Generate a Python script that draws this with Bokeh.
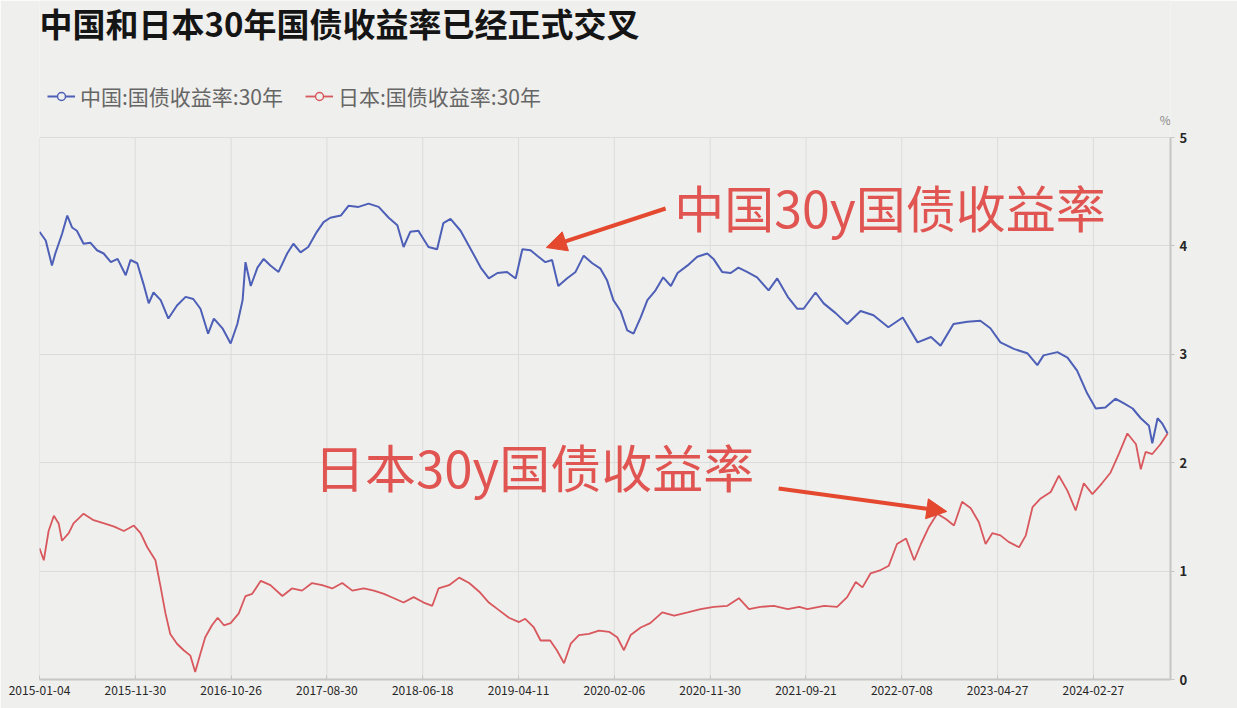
from bokeh.plotting import figure
from bokeh.models import (Range1d, FixedTicker, Label, Arrow, NormalHead,
                          Legend, LegendItem)
from bokeh.embed import file_html
from bokeh.resources import INLINE

# ---------------- data ----------------
tick_idx = [0, 200, 400, 600, 800, 1000, 1200, 1400, 1600, 1800, 2000, 2200]
tick_labels = ["2015-01-04", "2015-11-30", "2016-10-26", "2017-08-30",
               "2018-06-18", "2019-04-11", "2020-02-06", "2020-11-30",
               "2021-09-21", "2022-07-08", "2023-04-27", "2024-02-27"]
y_ticks = [0, 1, 2, 3, 4, 5]

china_idx = [0, 13, 26, 33, 47, 58, 68, 78, 92, 106, 120, 134, 149, 163, 180, 190,
             204, 217, 228, 238, 253, 269, 287, 305, 321, 336, 352, 364, 382, 399,
             413, 424, 430, 441, 455, 468, 482, 499, 517, 530, 545, 561, 579, 593,
             607, 629, 645, 666, 687, 708, 729, 747, 760, 774, 791, 795, 812, 830,
             843, 858, 879, 904, 921, 938, 956, 976, 994, 1008, 1025, 1039, 1056,
             1070, 1083, 1101, 1119, 1136, 1154, 1171, 1185, 1198, 1213, 1227, 1240,
             1255, 1269, 1286, 1302, 1318, 1332, 1353, 1373, 1394, 1407, 1425, 1443,
             1459, 1477, 1498, 1522, 1540, 1562, 1582, 1595, 1620, 1637, 1662, 1686,
             1714, 1741, 1772, 1802, 1833, 1861, 1881, 1908, 1937, 1964, 1985, 2006,
             2034, 2062, 2083, 2096, 2125, 2146, 2166, 2187, 2205, 2225, 2246, 2263,
             2282, 2299, 2316, 2323, 2334, 2344, 2355]
china_val = [4.13, 4.05, 3.82, 3.93, 4.11, 4.28, 4.17, 4.14, 4.02, 4.03, 3.96, 3.93,
             3.85, 3.88, 3.73, 3.87, 3.84, 3.65, 3.47, 3.57, 3.50, 3.33, 3.45, 3.53,
             3.51, 3.42, 3.19, 3.33, 3.24, 3.10, 3.28, 3.50, 3.85, 3.63, 3.80, 3.88,
             3.82, 3.76, 3.93, 4.02, 3.94, 3.99, 4.13, 4.22, 4.26, 4.28, 4.37, 4.36,
             4.39, 4.36, 4.26, 4.19, 3.99, 4.13, 4.14, 4.11, 3.99, 3.97, 4.21, 4.25,
             4.14, 3.94, 3.80, 3.70, 3.75, 3.76, 3.70, 3.97, 3.96, 3.91, 3.85, 3.87,
             3.63, 3.70, 3.76, 3.91, 3.84, 3.79, 3.68, 3.50, 3.40, 3.22, 3.19, 3.34,
             3.50, 3.59, 3.71, 3.63, 3.75, 3.82, 3.90, 3.93, 3.88, 3.76, 3.75, 3.80,
             3.76, 3.71, 3.59, 3.70, 3.53, 3.42, 3.42, 3.57, 3.47, 3.38, 3.28, 3.40,
             3.36, 3.25, 3.34, 3.11, 3.16, 3.08, 3.28, 3.30, 3.31, 3.24, 3.11, 3.05,
             3.01, 2.90, 2.99, 3.02, 2.97, 2.85, 2.64, 2.50, 2.51, 2.59, 2.55, 2.50,
             2.41, 2.34, 2.18, 2.41, 2.36, 2.27]

japan_idx = [0, 9, 19, 30, 40, 47, 61, 71, 92, 113, 135, 156, 176, 197, 211, 225,
             242, 253, 263, 273, 287, 301, 315, 325, 336, 346, 360, 372, 385, 399,
             416, 430, 444, 462, 482, 507, 527, 548, 569, 590, 611, 632, 653, 677,
             698, 719, 740, 760, 781, 802, 820, 833, 855, 876, 897, 918, 938, 959,
             980, 1001, 1014, 1032, 1046, 1066, 1080, 1095, 1109, 1126, 1147, 1168,
             1189, 1206, 1220, 1234, 1255, 1275, 1300, 1325, 1353, 1380, 1408, 1436,
             1460, 1481, 1505, 1533, 1562, 1586, 1603, 1638, 1665, 1686, 1704, 1718,
             1735, 1756, 1773, 1790, 1809, 1826, 1840, 1857, 1874, 1892, 1909, 1926,
             1944, 1961, 1975, 1989, 2006, 2023, 2045, 2059, 2073, 2090, 2111, 2128,
             2146, 2163, 2180, 2198, 2218, 2236, 2253, 2271, 2289, 2299, 2309, 2323,
             2340, 2355]
japan_val = [1.21, 1.10, 1.37, 1.51, 1.44, 1.28, 1.35, 1.44, 1.53, 1.47, 1.44, 1.41,
             1.37, 1.42, 1.35, 1.22, 1.10, 0.85, 0.61, 0.42, 0.33, 0.27, 0.22, 0.07,
             0.24, 0.39, 0.50, 0.57, 0.50, 0.52, 0.61, 0.77, 0.79, 0.91, 0.87, 0.77,
             0.84, 0.82, 0.89, 0.87, 0.84, 0.89, 0.82, 0.84, 0.82, 0.79, 0.75, 0.71,
             0.76, 0.71, 0.68, 0.84, 0.87, 0.94, 0.89, 0.81, 0.71, 0.64, 0.57, 0.53,
             0.56, 0.48, 0.36, 0.36, 0.27, 0.15, 0.33, 0.41, 0.42, 0.45, 0.44, 0.39,
             0.27, 0.41, 0.48, 0.52, 0.62, 0.59, 0.62, 0.65, 0.67, 0.68, 0.75, 0.65,
             0.67, 0.68, 0.65, 0.67, 0.65, 0.68, 0.67, 0.76, 0.90, 0.85, 0.98, 1.01,
             1.05, 1.25, 1.30, 1.10, 1.25, 1.41, 1.53, 1.48, 1.42, 1.64, 1.58, 1.45,
             1.25, 1.35, 1.33, 1.27, 1.22, 1.33, 1.59, 1.67, 1.73, 1.88, 1.74, 1.56,
             1.81, 1.71, 1.81, 1.91, 2.08, 2.27, 2.17, 1.94, 2.10, 2.08, 2.17, 2.27]

china_name = "中国:国债收益率:30年"
japan_name = "日本:国债收益率:30年"
title_text = "中国和日本30年国债收益率已经正式交叉"
china_note = "中国30y国债收益率"
japan_note = "日本30y国债收益率"

# ---------------- style ----------------
BG = "#efefed"
BLUE = "#4d5fb6"
RED = "#d8585d"
NOTE_RED = "#e05552"
ARROW_RED = "#e4482f"
GRID = "#dcdcdc"
AXIS = "#c6c6c6"
CJK = "Noto Sans CJK SC"

W, H = 1237, 708
# the frame reaches the top of the canvas so that title and legend (drawn as
# annotations) are not clipped; the value axis and grid stop at 5
p = figure(width=W, height=H, output_backend="svg", toolbar_location=None,
           x_range=Range1d(0, 2361), y_range=Range1d(0, 6.264),
           y_axis_location="right",
           min_border_left=39, min_border_right=67,
           min_border_top=0, min_border_bottom=29,
           background_fill_color=BG, border_fill_color=BG,
           outline_line_color=None)

p.xaxis.ticker = FixedTicker(ticks=tick_idx)
p.xaxis.major_label_overrides = {t: l for t, l in zip(tick_idx, tick_labels)}
p.yaxis.ticker = FixedTicker(ticks=y_ticks)
p.yaxis.bounds = (0, 5)
p.xgrid.visible = False
p.ygrid.ticker = FixedTicker(ticks=y_ticks)
p.ygrid.grid_line_color = GRID
p.ygrid.grid_line_width = 1

# vertical grid lines, only over the value range 0..5
p.segment(x0=tick_idx, y0=y_ticks[0], x1=tick_idx, y1=y_ticks[-1],
          line_color=GRID, line_width=1)

for ax in (p.xaxis, p.yaxis):
    ax.axis_line_color = AXIS
    ax.axis_line_width = 2
    ax.major_tick_line_color = AXIS
    ax.minor_tick_line_color = None
    ax.major_label_text_font = CJK
    ax.major_label_text_color = "#262626"

p.xaxis.major_tick_in = 4
p.xaxis.major_tick_out = 0
p.xaxis.major_label_standoff = 6
p.xaxis.major_label_text_font_size = "12px"
p.yaxis.major_tick_in = 0
p.yaxis.major_tick_out = 4
p.yaxis.major_label_standoff = 5
p.yaxis.major_label_text_font_size = "13px"
p.yaxis.major_label_text_font_style = "bold"

cl = p.line(china_idx, china_val, line_color=BLUE, line_width=2)
jl = p.line(japan_idx, japan_val, line_color=RED, line_width=1.8)
# legend-only markers (kept below the visible value range)
cc = p.scatter([china_idx[0]], [-1], marker="circle", size=9, fill_color=BG,
               line_color=BLUE, line_width=1.5)
jc = p.scatter([japan_idx[0]], [-1], marker="circle", size=9, fill_color=BG,
               line_color=RED, line_width=1.5)

legend = Legend(items=[LegendItem(label=china_name, renderers=[cl, cc]),
                       LegendItem(label=japan_name, renderers=[jl, jc])],
                orientation="horizontal", location=(8, 568),
                padding=0, margin=0, spacing=22, glyph_width=28, glyph_height=20,
                label_height=20, label_standoff=5,
                label_text_font=CJK, label_text_font_size="21px",
                label_text_color="#666666",
                background_fill_alpha=0, border_line_color=None)
p.add_layout(legend, "center")

p.add_layout(Label(x=0, y=6.06, text=title_text, text_font=CJK,
                   text_font_size="33px", text_font_style="bold",
                   text_color="#151515", text_baseline="middle"))
p.add_layout(Label(x=2350, y=5.17, text="%", text_font=CJK, text_font_size="12px",
                   text_color="#888888", text_align="center", text_baseline="middle"))

p.add_layout(Label(x=1325, y=4.37, text=china_note, text_font=CJK,
                   text_font_size="50px", text_color=NOTE_RED, text_baseline="middle"))
p.add_layout(Label(x=573, y=1.97, text=japan_note, text_font=CJK,
                   text_font_size="51px", text_color=NOTE_RED, text_baseline="middle"))

p.add_layout(Arrow(x_start=1307, y_start=4.345, x_end=1058, y_end=3.985,
                   line_color=ARROW_RED, line_width=4,
                   end=NormalHead(size=20, fill_color=ARROW_RED, line_color=ARROW_RED)))
p.add_layout(Arrow(x_start=1543, y_start=1.762, x_end=1894, y_end=1.55,
                   line_color=ARROW_RED, line_width=4,
                   end=NormalHead(size=20, fill_color=ARROW_RED, line_color=ARROW_RED)))

open("out.html", "w").write(file_html(p, INLINE))
